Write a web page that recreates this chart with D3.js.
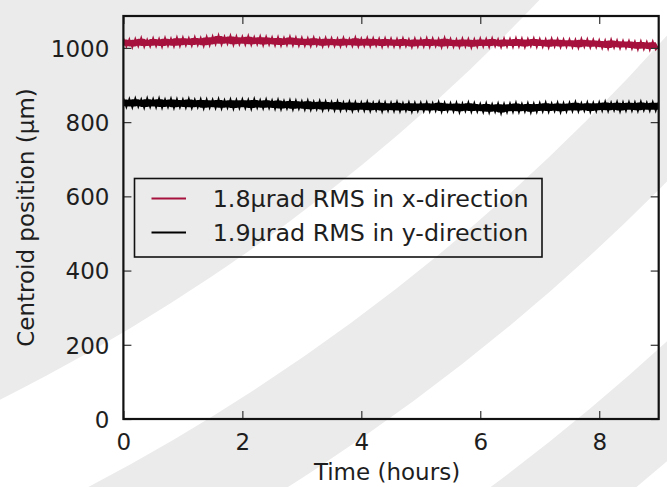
<!DOCTYPE html>
<html>
<head>
<meta charset="utf-8">
<script src="https://cdn.jsdelivr.net/npm/d3@7"></script>
<style>
  html, body { margin: 0; padding: 0; background: #fff; }
  svg { display: block; }
  text { font-family: "DejaVu Sans", sans-serif; fill: #1e1e1e; }
</style>
</head>
<body>
<svg id="chart" width="667" height="487"></svg>
<script>
// ---- data ----
const xTicks = [0, 2, 4, 6, 8];
const yTicks = [0, 200, 400, 600, 800, 1000];
const xDomain = [0, 9];
const yDomain = [0, 1086];
const sampleStepHours = 0.05;

const xDirection = [
  1027,1002,1025,1000,1026,1003,1029,1001,1024,1002,
  1028,1003,1026,1001,1029,1004,1027,1002,1030,1003,
  1030,1005,1028,1004,1031,1006,1029,1003,1032,1005,
  1033,1008,1036,1007,1032,1009,1035,1006,1033,1008,
  1032,1007,1034,1006,1031,1008,1033,1005,1032,1007,
  1030,1005,1031,1004,1029,1006,1032,1005,1030,1004,
  1029,1004,1028,1003,1030,1005,1027,1002,1029,1004,
  1028,1003,1027,1002,1029,1004,1026,1003,1030,1002,
  1027,1003,1029,1002,1028,1004,1027,1001,1028,1003,
  1027,1002,1026,1001,1028,1003,1025,1000,1027,1002,
  1026,1002,1028,1001,1027,1003,1026,1000,1029,1002,
  1026,1001,1025,1000,1027,1002,1026,999,1025,1001,
  1027,1002,1026,1001,1028,1003,1025,1000,1027,1002,
  1026,1001,1028,1002,1027,1000,1026,1003,1028,1001,
  1026,1001,1025,999,1027,1002,1026,1000,1025,1001,
  1025,1000,1024,998,1026,1001,1025,999,1024,1000,
  1023,998,1022,996,1024,999,1022,997,1021,998,
  1021,996,1019,994,1020,995,1018,993,1019,995,
  1004
];

const yDirection = [
  865,839,864,838,866,840,863,837,866,839,
  864,838,866,837,863,839,865,836,864,838,
  863,837,865,836,862,838,864,835,863,837,
  862,836,864,835,861,837,863,834,862,836,
  863,836,862,834,864,837,861,835,863,836,
  860,834,862,833,859,835,861,832,860,834,
  858,832,860,831,857,833,859,830,858,832,
  856,830,858,829,855,831,857,828,856,830,
  855,829,857,828,854,830,856,827,855,829,
  854,828,856,827,853,829,855,826,854,828,
  854,828,855,827,853,829,856,826,854,828,
  853,827,854,825,852,828,855,826,853,827,
  851,825,853,824,850,826,852,822,851,825,
  852,826,854,825,851,827,853,824,852,826,
  853,827,855,826,852,828,854,825,853,827,
  854,828,856,827,853,829,855,826,854,828,
  855,829,857,828,854,830,856,827,855,829,
  856,829,855,828,857,830,854,829,856,829,
  856
];

const seriesNames = ["1.8\u03bcrad RMS in x-direction", "1.9\u03bcrad RMS in y-direction"];
const seriesColors = ["#a6123d", "#000000"];

// ---- layout ----
const W = 667, H = 487;
const plot = { left: 123.4, right: 658.7, top: 16, bottom: 419 };

const svg = d3.select("#chart");

// background watermark stripes
const bg = svg.append("g");
bg.append("rect").attr("width", W).attr("height", H).attr("fill", "#ffffff");
const cx = -866, cy = -1333;
bg.append("circle").attr("cx", cx).attr("cy", cy).attr("r", 1937).attr("fill", "#ebebeb");
bg.append("circle").attr("cx", cx).attr("cy", cy).attr("r", 2105).attr("fill", "none")
  .attr("stroke", "#ebebeb").attr("stroke-width", 100);
bg.append("circle").attr("cx", cx).attr("cy", cy).attr("r", 2315).attr("fill", "none")
  .attr("stroke", "#ebebeb").attr("stroke-width", 90);

const x = d3.scaleLinear().domain(xDomain).range([plot.left, plot.right]);
const y = d3.scaleLinear().domain(yDomain).range([plot.bottom, plot.top]);

svg.append("clipPath").attr("id", "clip").append("rect")
  .attr("x", plot.left).attr("y", plot.top)
  .attr("width", plot.right - plot.left).attr("height", plot.bottom - plot.top);

const line = d3.line().x((d, i) => x(i * sampleStepHours)).y(d => y(d));

const series = [xDirection, yDirection];
series.forEach((s, k) => {
  // local envelope of the noisy trace so the dense band reads as solid
  const env = s.map((v, i) => {
    const win = s.slice(Math.max(0, i - 1), Math.min(s.length, i + 2));
    return { i, lo: d3.min(win), hi: d3.max(win) };
  });
  const area = d3.area().x(d => x(d.i * sampleStepHours)).y0(d => y(d.lo) - 1.5).y1(d => y(d.hi) + 1.5);
  svg.append("path").datum(env)
    .attr("clip-path", "url(#clip)")
    .attr("fill", seriesColors[k])
    .attr("d", area);
  svg.append("path").datum(s)
    .attr("clip-path", "url(#clip)")
    .attr("fill", "none")
    .attr("stroke", seriesColors[k])
    .attr("stroke-width", 1.4)
    .attr("d", line);
});

// ticks (inside, all four sides)
const tickLen = 8;
const tickColor = "#333";
const bottomAxis = d3.axisBottom(x).tickValues(xTicks).tickSize(-tickLen).tickPadding(14).tickFormat(d3.format("d"));
const topAxis = d3.axisTop(x).tickValues(xTicks).tickSize(-tickLen).tickFormat("");
const leftAxis = d3.axisLeft(y).tickValues(yTicks).tickSize(-tickLen).tickPadding(14).tickFormat(d3.format("d"));
const rightAxis = d3.axisRight(y).tickValues(yTicks).tickSize(-tickLen).tickFormat("");

function styleAxis(g) {
  g.select(".domain").remove();
  g.selectAll(".tick line").attr("stroke", tickColor).attr("stroke-width", 1.2);
  g.selectAll(".tick text").style("font-size", "23px").style("font-family", "DejaVu Sans").attr("fill", "#1e1e1e");
}
svg.append("g").attr("transform", `translate(0,${plot.bottom})`).call(bottomAxis).call(styleAxis)
  .selectAll(".tick text").attr("dy", "0.72em");
svg.append("g").attr("transform", `translate(0,${plot.top})`).call(topAxis).call(styleAxis);
svg.append("g").attr("transform", `translate(${plot.left},0)`).call(leftAxis).call(styleAxis)
  .selectAll(".tick text").attr("dy", "0.36em");
svg.append("g").attr("transform", `translate(${plot.right},0)`).call(rightAxis).call(styleAxis);

// spines
svg.append("rect")
  .attr("x", plot.left).attr("y", plot.top)
  .attr("width", plot.right - plot.left).attr("height", plot.bottom - plot.top)
  .attr("fill", "none").attr("stroke", "#111").attr("stroke-width", 2.2);

// axis labels
svg.append("text").attr("x", 387).attr("y", 480).attr("text-anchor", "middle")
  .style("font-size", "23px").text("Time (hours)");
svg.append("text").attr("transform", `translate(33.5,${(plot.top + plot.bottom) / 2}) rotate(-90)`)
  .attr("text-anchor", "middle").style("font-size", "23px").text("Centroid position (\u03bcm)");

// legend
const legend = svg.append("g");
legend.append("rect").attr("x", 134.5).attr("y", 178.5).attr("width", 407.5).attr("height", 78.5)
  .attr("fill", "none").attr("stroke", "#111").attr("stroke-width", 1.6);
seriesNames.forEach((name, k) => {
  const yy = 198.5 + k * 34;
  legend.append("line").attr("x1", 151.5).attr("x2", 186).attr("y1", yy).attr("y2", yy)
    .attr("stroke", seriesColors[k]).attr("stroke-width", 2);
  legend.append("text").attr("x", 212.7).attr("y", yy + 8.4)
    .style("font-size", "23.8px").text(name);
});
</script>
</body>
</html>
